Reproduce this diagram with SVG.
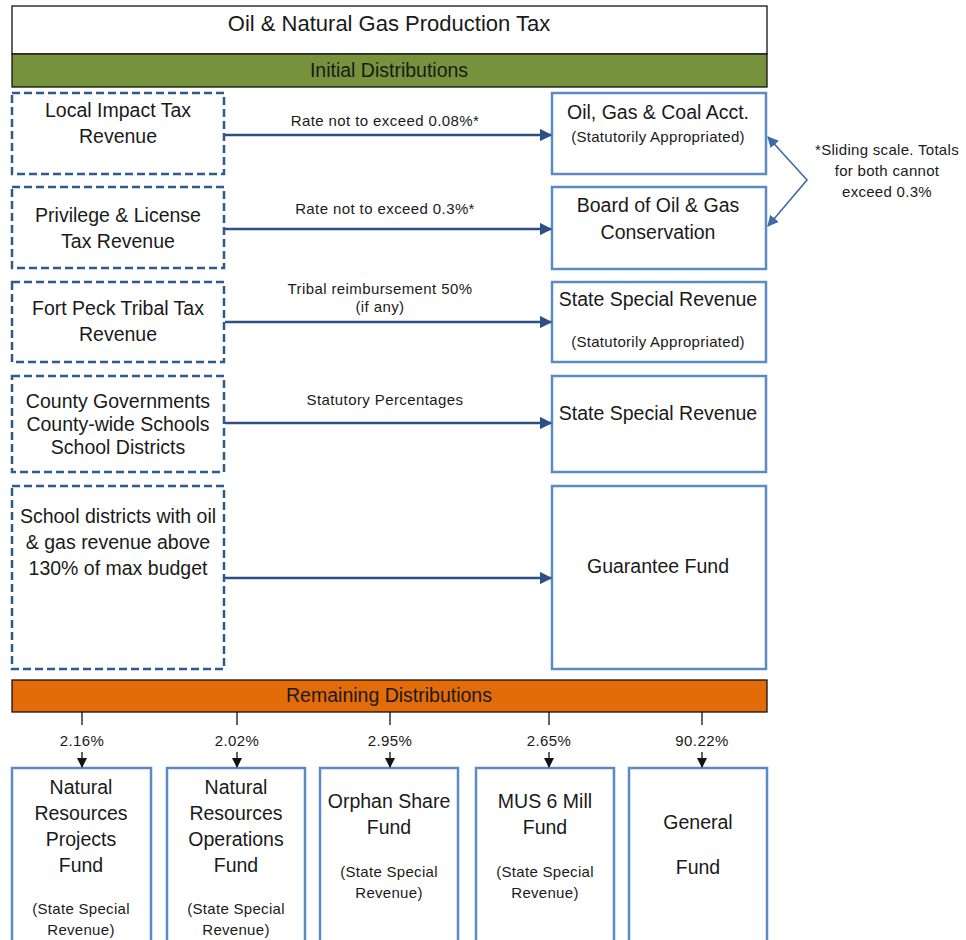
<svg xmlns="http://www.w3.org/2000/svg" width="966" height="940" viewBox="0 0 966 940">
<style>
text{font-family:"Liberation Sans",Arial,sans-serif;fill:#1a1a1a;text-anchor:middle}
.t{font-size:19.5px}
.s{font-size:15px;letter-spacing:0.3px}
.l{font-size:15px;letter-spacing:0.4px}
.src{fill:#fff;stroke:#2E5A8C;stroke-width:2.5;stroke-dasharray:8 4}
.dst{fill:#fff;stroke:#5B8AC4;stroke-width:2.5}
.arr{stroke:#2E4F86;stroke-width:2.5;fill:none}
.tick{stroke:#111;stroke-width:1.3;fill:none}
</style>
<defs>
<marker id="ah" viewBox="0 0 10 10" refX="9" refY="5" markerWidth="5" markerHeight="5" orient="auto"><path d="M0,0L10,5L0,10z" fill="#2E4F86"/></marker>
<marker id="ah2" viewBox="0 0 10 10" refX="9" refY="5" markerWidth="7" markerHeight="7" orient="auto-start-reverse"><path d="M0,0L10,5L0,10z" fill="#3E6BA8"/></marker>
<marker id="bh" viewBox="0 0 10 10" refX="9" refY="5" markerWidth="8" markerHeight="8" orient="auto"><path d="M0,0L10,5L0,10z" fill="#111"/></marker>
</defs>
<g id="title"><rect x="12" y="6" width="755" height="48" fill="#fff" stroke="#111" stroke-width="1.3"/><text x="389" y="31" style="font-size:22px">Oil &amp; Natural Gas Production Tax</text></g>
<g id="initial"><rect x="12" y="54" width="755" height="33" fill="#76923C" stroke="#111" stroke-width="1.3"/><text x="389" y="77" style="font-size:19.5px">Initial Distributions</text></g>

<g id="src1"><rect class="src" x="12" y="93" width="212" height="81"/><text class="t" x="118" y="117">Local Impact Tax</text><text class="t" x="118" y="143">Revenue</text></g>
<g id="src2"><rect class="src" x="12" y="187" width="212" height="81"/><text class="t" x="118" y="222">Privilege &amp; License</text><text class="t" x="118" y="248">Tax Revenue</text></g>
<g id="src3"><rect class="src" x="12" y="282" width="212" height="80"/><text class="t" x="118" y="315">Fort Peck Tribal Tax</text><text class="t" x="118" y="341">Revenue</text></g>
<g id="src4"><rect class="src" x="12" y="376" width="212" height="96"/><text class="t" x="118" y="408">County Governments</text><text class="t" x="118" y="431">County-wide Schools</text><text class="t" x="118" y="454">School Districts</text></g>
<g id="src5"><rect class="src" x="12" y="486" width="212" height="183"/><text class="t" x="118" y="523">School districts with oil</text><text class="t" x="118" y="549">&amp; gas revenue above</text><text class="t" x="118" y="575">130% of max budget</text></g>

<g id="dst1"><rect class="dst" x="552" y="93" width="214" height="81"/><text class="t" x="658" y="119">Oil, Gas &amp; Coal Acct.</text><text class="s" x="658" y="142">(Statutorily Appropriated)</text></g>
<g id="dst2"><rect class="dst" x="552" y="187" width="214" height="82"/><text class="t" x="658" y="212">Board of Oil &amp; Gas</text><text class="t" x="658" y="239">Conservation</text></g>
<g id="dst3"><rect class="dst" x="552" y="282" width="214" height="80"/><text class="t" x="658" y="306">State Special Revenue</text><text class="s" x="658" y="347">(Statutorily Appropriated)</text></g>
<g id="dst4"><rect class="dst" x="552" y="376" width="214" height="96"/><text class="t" x="658" y="420">State Special Revenue</text></g>
<g id="dst5"><rect class="dst" x="552" y="486" width="214" height="183"/><text class="t" x="658" y="573">Guarantee  Fund</text></g>

<g id="note"><text class="s" x="887" y="155">*Sliding scale. Totals</text><text class="s" x="887" y="176">for both cannot</text><text class="s" x="887" y="197">exceed 0.3%</text></g>

<g id="remaining"><rect x="12" y="680" width="755" height="32" fill="#E36C09" stroke="#111" stroke-width="1.3"/><text x="389" y="702" style="font-size:19.5px">Remaining Distributions</text></g>

<g id="f1"><rect class="dst" x="12" y="768" width="139" height="190"/><text class="t" x="81" y="794">Natural</text><text class="t" x="81" y="820">Resources</text><text class="t" x="81" y="846">Projects</text><text class="t" x="81" y="872">Fund</text><text class="s" x="81" y="914">(State Special</text><text class="s" x="81" y="935">Revenue)</text></g>
<g id="f2"><rect class="dst" x="167" y="768" width="138" height="190"/><text class="t" x="236" y="794">Natural</text><text class="t" x="236" y="820">Resources</text><text class="t" x="236" y="846">Operations</text><text class="t" x="236" y="872">Fund</text><text class="s" x="236" y="914">(State Special</text><text class="s" x="236" y="935">Revenue)</text></g>
<g id="f3"><rect class="dst" x="320" y="768" width="138" height="190"/><text class="t" x="389" y="808">Orphan Share</text><text class="t" x="389" y="834">Fund</text><text class="s" x="389" y="877">(State Special</text><text class="s" x="389" y="898">Revenue)</text></g>
<g id="f4"><rect class="dst" x="476" y="768" width="138" height="190"/><text class="t" x="545" y="808">MUS 6 Mill</text><text class="t" x="545" y="834">Fund</text><text class="s" x="545" y="877">(State Special</text><text class="s" x="545" y="898">Revenue)</text></g>
<g id="f5"><rect class="dst" x="629" y="768" width="138" height="190"/><text class="t" x="698" y="829">General</text><text class="t" x="698" y="874">Fund</text></g>

<g id="connectors">
<line class="arr" x1="225" y1="135" x2="551" y2="135" marker-end="url(#ah)"/>
<text class="l" x="385" y="126">Rate not to exceed 0.08%*</text>
<line class="arr" x1="225" y1="229" x2="551" y2="229" marker-end="url(#ah)"/>
<text class="l" x="385" y="214">Rate not to exceed 0.3%*</text>
<line class="arr" x1="225" y1="322" x2="551" y2="322" marker-end="url(#ah)"/>
<text class="l" x="380" y="294">Tribal reimbursement 50%</text>
<text class="l" x="380" y="312">(if any)</text>
<line class="arr" x1="225" y1="423" x2="551" y2="423" marker-end="url(#ah)"/>
<text class="l" x="385" y="405">Statutory Percentages</text>
<line class="arr" x1="225" y1="578" x2="551" y2="578" marker-end="url(#ah)"/>
<polyline points="768,137 807,180 768,226" fill="none" stroke="#3E6BA8" stroke-width="1.6" marker-start="url(#ah2)" marker-end="url(#ah2)"/>
<g class="tick">
<line x1="82" y1="712" x2="82" y2="725"/><line x1="82" y1="752" x2="82" y2="767" marker-end="url(#bh)"/>
<line x1="237" y1="712" x2="237" y2="725"/><line x1="237" y1="752" x2="237" y2="767" marker-end="url(#bh)"/>
<line x1="390" y1="712" x2="390" y2="725"/><line x1="390" y1="752" x2="390" y2="767" marker-end="url(#bh)"/>
<line x1="549" y1="712" x2="549" y2="725"/><line x1="549" y1="752" x2="549" y2="767" marker-end="url(#bh)"/>
<line x1="702" y1="712" x2="702" y2="725"/><line x1="702" y1="752" x2="702" y2="767" marker-end="url(#bh)"/>
</g>
<text class="l" x="82" y="746">2.16%</text>
<text class="l" x="237" y="746">2.02%</text>
<text class="l" x="390" y="746">2.95%</text>
<text class="l" x="549" y="746">2.65%</text>
<text class="l" x="702" y="746">90.22%</text>
</g>
</svg>
